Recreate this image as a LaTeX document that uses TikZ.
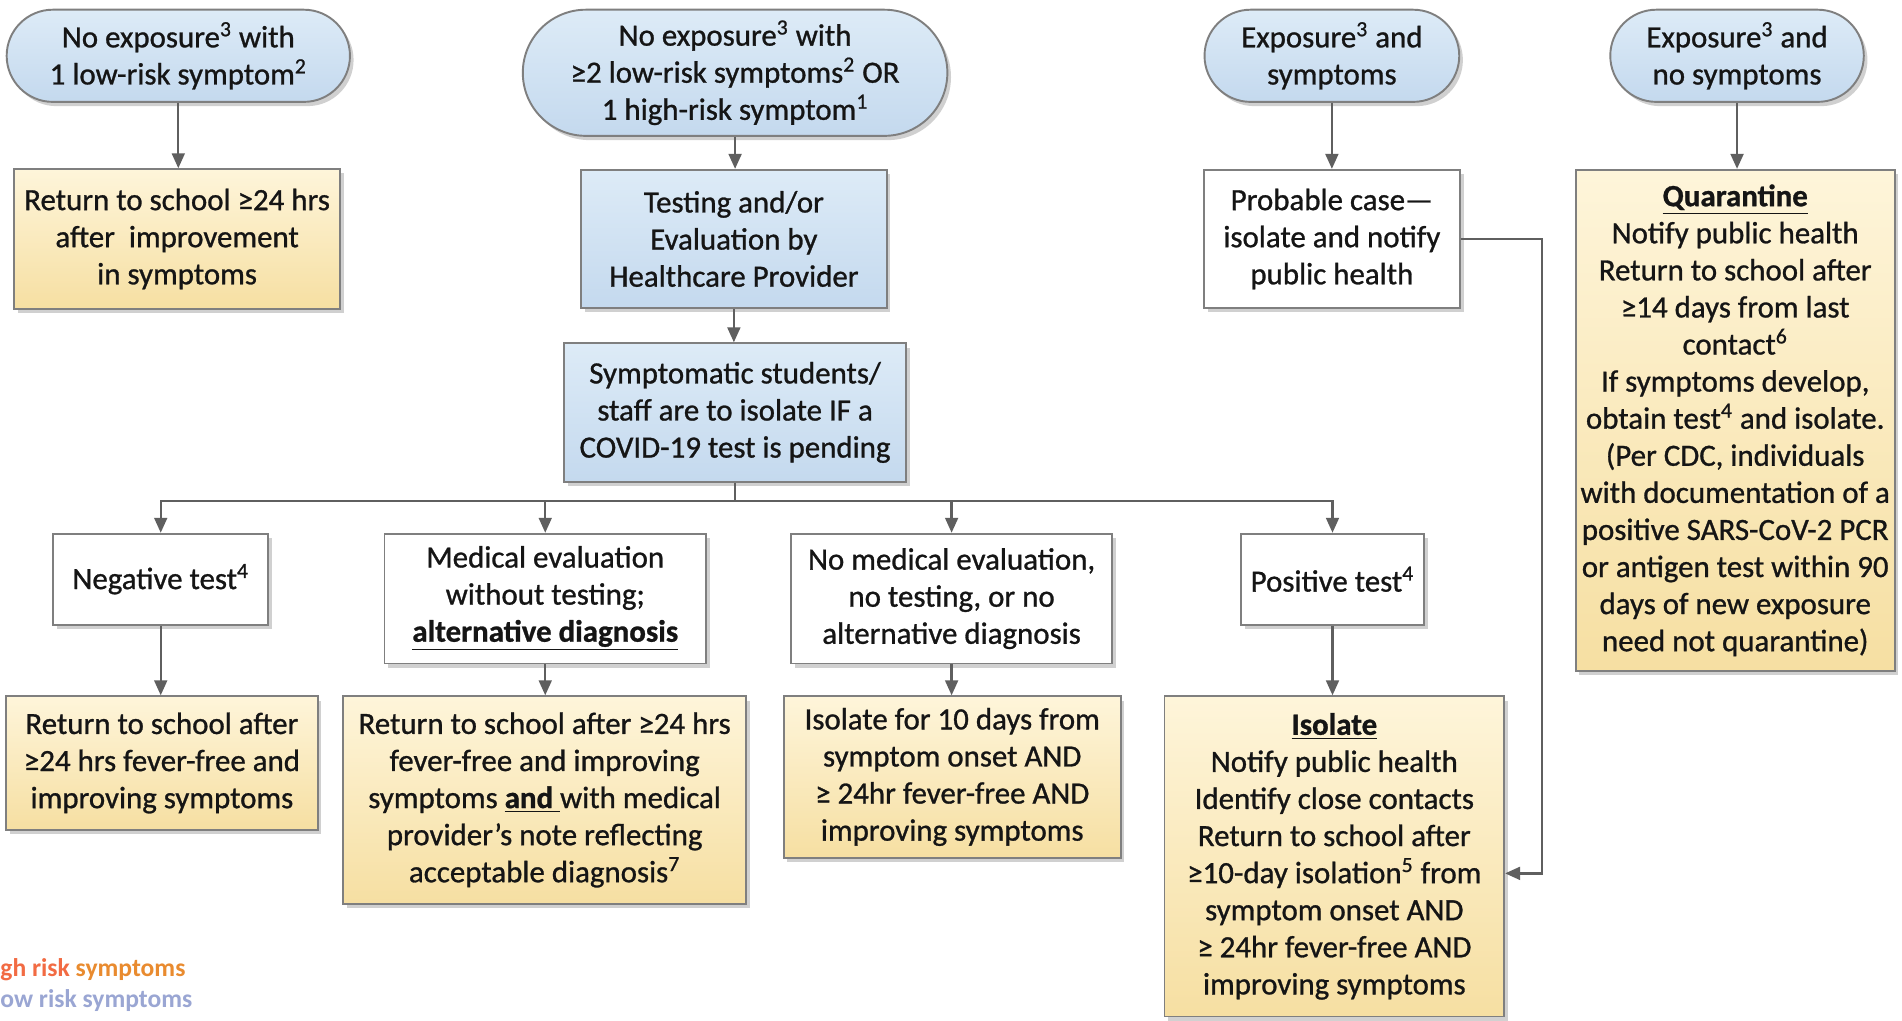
\documentclass[tikz,border=0pt]{standalone}
\usepackage{fontspec}
\setmainfont{Carlito}
\newfontfamily\thickfont{Carlito}[FakeBold=0.9]
\usetikzlibrary{shadows,arrows.meta}
\definecolor{bluetop}{HTML}{DDEBF7}
\definecolor{bluebot}{HTML}{C4D9EE}
\definecolor{yeltop}{HTML}{FEF5DA}
\definecolor{yelbot}{HTML}{F6DFA2}
\definecolor{edge}{HTML}{7F7F7F}
\definecolor{linec}{HTML}{5F5F5F}
\definecolor{txt}{HTML}{151515}
\definecolor{hiA}{HTML}{F26B43}
\definecolor{hiB}{HTML}{E98B2F}
\definecolor{lowc}{HTML}{9AA6D3}
\begin{document}
\begin{tikzpicture}[x=0.02cm,y=-0.02cm,
 every node/.style={font=\thickfont\fontsize{14.5}{17.4}\selectfont, text=txt},
 base/.style={draw=edge, line width=0.9pt, align=center, inner sep=0pt,
   drop shadow={shadow xshift=0.06cm, shadow yshift=-0.07cm, opacity=0.3, fill=black!60}},
 pill/.style={base, top color=bluetop, bottom color=bluebot},
 bluebox/.style={base, top color=bluetop, bottom color=bluebot},
 yelbox/.style={base, top color=yeltop, bottom color=yelbot},
 whitebox/.style={base, fill=white},
 arr/.style={draw=linec, line width=1.1pt, -{Triangle[length=7pt,width=6pt]}},
 ln/.style={draw=linec, line width=1.1pt},
 sz/.style 2 args={minimum width=#1*0.02cm, minimum height=#2*0.02cm}
]
\fill[white] (0,0) rectangle (1568,841);
\useasboundingbox (0,0) rectangle (1568,841);

% top row
\node[pill, sz={283}{76}, rounded corners=0.76cm] (A) at (147,46) {No exposure\textsuperscript{3} with\\1 low-risk symptom\textsuperscript{2}};
\node[pill, sz={350}{104}, rounded corners=1.04cm] (B) at (606,60) {No exposure\textsuperscript{3} with\\≥2 low-risk symptoms\textsuperscript{2} OR\\1 high-risk symptom\textsuperscript{1}};
\node[pill, sz={210}{76}, rounded corners=0.76cm] (C) at (1098,46) {Exposure\textsuperscript{3} and\\symptoms};
\node[pill, sz={209}{76}, rounded corners=0.76cm] (D) at (1432,46) {Exposure\textsuperscript{3} and\\no symptoms};

% second row
\node[yelbox, sz={269}{115}] (A2) at (146,197) {Return to school ≥24 hrs\\after\ \ improvement\\in symptoms};
\node[bluebox, sz={252}{114}] (B2) at (605,197) {Testing and/or\\Evaluation by\\Healthcare Provider};
\node[whitebox, sz={211}{114}] (C2) at (1098,197) {Probable case—\\isolate and notify\\public health};
\node[yelbox, sz={263}{413}] (D2) at (1430.5,346.5) {\underline{\textbf{Quarantine}}\\Notify public health\\Return to school after\\≥14 days from last\\contact\textsuperscript{6}\\If symptoms develop,\\obtain test\textsuperscript{4} and isolate.\\(Per CDC, individuals\\with documentation of a\\positive SARS-CoV-2 PCR\\or antigen test within 90\\days of new exposure\\need not quarantine)};

\node[bluebox, sz={282}{114}] (B3) at (606,340) {Symptomatic students/\\staff are to isolate IF a\\COVID-19 test is pending};

% branch row
\node[whitebox, sz={177}{75}] (E1) at (132.5,477.5) {Negative test\textsuperscript{4}};
\node[whitebox, sz={265}{107}] (E2) at (449.5,493.5) {Medical evaluation\\without testing;\\\underline{\textbf{alternative diagnosis}}};
\node[whitebox, sz={265}{107}] (E3) at (784.5,493.5) {No medical evaluation,\\no testing, or no\\alternative diagnosis};
\node[whitebox, sz={151}{75}] (E4) at (1098.5,477.5) {Positive test\textsuperscript{4}};

% outcomes
\node[yelbox, sz={257}{110}] (F1) at (133.5,629) {Return to school after\\≥24 hrs fever-free and\\improving symptoms};
\node[yelbox, sz={332}{171}] (F2) at (449,659.5) {Return to school after ≥24 hrs\\fever-free and improving\\symptoms \underline{\textbf{and}\ }with medical\\provider’s note reflecting\\acceptable diagnosis\textsuperscript{7}};
\node[yelbox, sz={278}{133}] (F3) at (785,640.5) {Isolate for 10 days from\\symptom onset AND\\≥ 24hr fever-free AND\\improving symptoms};
\node[yelbox, sz={280}{264}] (F4) at (1100,706) {\underline{\textbf{Isolate}}\\Notify public health\\Identify close contacts\\Return to school after\\≥10-day isolation\textsuperscript{5} from\\symptom onset AND\\≥ 24hr fever-free AND\\improving symptoms};

% legend
\node[anchor=west, inner sep=0pt, font=\fontsize{12}{14}\selectfont\bfseries] (hi) at (0,799) {\textcolor{hiA}{gh risk} \textcolor{hiB}{symptoms}};
\node[anchor=west, inner sep=0pt, font=\fontsize{12}{14}\selectfont\bfseries, text=lowc] (lo) at (0,825) {ow risk symptoms};

% connectors
\draw[arr] (A.south) -- (A.south |- A2.north);
\draw[arr] (B.south) -- (B.south |- B2.north);
\draw[arr] (C.south) -- (C.south |- C2.north);
\draw[arr] (D.south) -- (D.south |- D2.north);
\draw[arr] (B2.south) -- (B2.south |- B3.north);
\coordinate (br) at (606,413);
\draw[ln] (B3.south) -- (br);
\draw[arr] (br) -| (E1.north);
\draw[arr] (br) -| (E2.north);
\draw[arr] (br) -| (E3.north);
\draw[arr] (br) -| (E4.north);
\draw[arr] (E1.south) -- (E1.south |- F1.north);
\draw[arr] (E2.south) -- (E2.south |- F2.north);
\draw[arr] (E3.south) -- (E3.south |- F3.north);
\draw[arr] (E4.south) -- (E4.south |- F4.north);
\coordinate (rtx) at (1271,0);
\coordinate (yin) at (0,720);
\draw[arr] (C2.east) -- (C2.east -| rtx) |- (F4.east |- yin);
\end{tikzpicture}
\end{document}
